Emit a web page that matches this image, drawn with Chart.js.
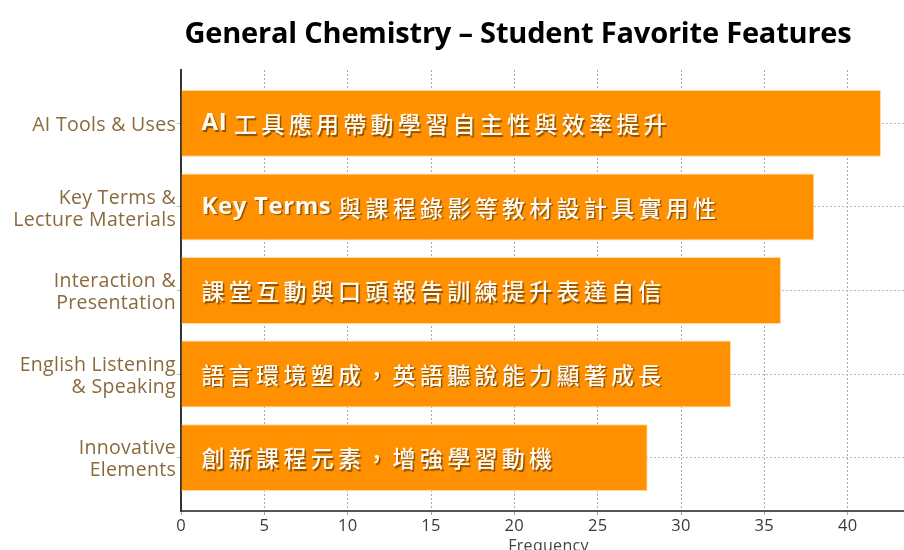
<!DOCTYPE html>
<html>
<head>
<meta charset="utf-8">
<script src="https://cdn.jsdelivr.net/npm/chart.js@4.4.1/dist/chart.umd.min.js"></script>
<style>
    html, body { margin: 0; padding: 0; background: #fff; overflow: hidden; }
    .wrap { position: relative; width: 916px; height: 556px; }
    .title {
        position: absolute; left: 518px; top: 12px; transform: translateX(-50%);
        white-space: nowrap; font: bold 29px "Open Sans", sans-serif; color: #000;
        letter-spacing: -0.2px;
    }
</style>
</head>
<body>
<div class="wrap">
    <div class="title">General Chemistry – Student Favorite Features</div>
    <canvas id="chart" width="916" height="556"></canvas>
</div>
<script>
// categories, top to bottom
const categories = [
    ['AI Tools & Uses'],
    ['Key Terms &', 'Lecture Materials'],
    ['Interaction &', 'Presentation'],
    ['English Listening', '& Speaking'],
    ['Innovative', 'Elements']
];
const frequencies = [42, 38, 36, 33, 28];
const barNotes = [
    'AI 工具應用帶動學習自主性與效率提升',
    'Key Terms 與課程錄影等教材設計具實用性',
    '課堂互動與口頭報告訓練提升表達自信',
    '語言環境塑成，英語聽說能力顯著成長',
    '創新課程元素，增強學習動機'
];
const xTicks = [0, 5, 10, 15, 20, 25, 30, 35, 40];

const barLabels = {
    id: 'barLabels',
    afterDatasetsDraw(chart) {
        const ctx = chart.ctx;
        const meta = chart.getDatasetMeta(0);
        meta.data.forEach(function (bar, i) {
            let text = barNotes[i];
            let m = text.match(/^[A-Za-z ]+/);
            let x = bar.base + 20;
            ctx.save();
            ctx.textBaseline = 'middle';
            ctx.fillStyle = '#fffaf0';
            ctx.shadowColor = 'rgba(90, 50, 0, 0.7)';
            ctx.shadowOffsetX = 1.5;
            ctx.shadowOffsetY = 1.5;
            ctx.shadowBlur = 1;
            if (m) {
                ctx.font = 'bold 24px "Open Sans"';
                ctx.letterSpacing = '0.6px';
                ctx.fillText(m[0], x, bar.y);
                x += ctx.measureText(m[0]).width;
                text = text.slice(m[0].length);
            }
            ctx.font = '500 23px "Noto Sans CJK TC"';
            ctx.letterSpacing = '4.3px';
            ctx.fillText(text, x, bar.y + 1);
            ctx.restore();
        });
    }
};

// slight tracking for the axis labels, like the original
const spacing = {
    id: 'spacing',
    beforeDraw(chart) {
        chart.ctx.letterSpacing = '0.3px';
    }
};

new Chart(document.getElementById('chart'), {
    type: 'bar',
    data: {
        datasets: [{
            data: frequencies.map((v, i) => ({x: v, y: i})),
            backgroundColor: '#ff9100',
            borderColor: '#ffd9a6',
            borderWidth: 1,
            barPercentage: 0.8,
            categoryPercentage: 1
        }]
    },
    options: {
        indexAxis: 'y',
        responsive: false,
        animation: false,
        layout: {padding: {top: 70, left: 0, right: 0, bottom: 0}},
        plugins: {legend: {display: false}, tooltip: {enabled: false}},
        scales: {
            x: {
                type: 'linear',
                min: 0,
                max: 44.1,
                afterBuildTicks: function (scale) {
                    scale.ticks = xTicks.map(v => ({value: v}));
                },
                ticks: {color: '#3a3a3a', font: {family: 'Open Sans', size: 16.5}, padding: 1},
                grid: {color: '#aaa', tickLength: 4},
                border: {color: '#555', width: 2, dash: [2, 2]},
                title: {display: true, text: 'Frequency', color: '#444', font: {family: 'Open Sans', size: 16}, padding: {top: 0, bottom: 0}}
            },
            y: {
                type: 'linear',
                reverse: true,
                offset: false,
                bounds: 'data',
                min: -0.64,
                max: 4.64,
                afterBuildTicks: function (scale) {
                    scale.ticks = categories.map((c, i) => ({value: i}));
                },
                afterFit: function (scale) {
                    scale.width = 181;
                },
                ticks: {
                    color: '#8a6a3c',
                    font: {family: 'Open Sans', size: 19.5, lineHeight: 1.13},
                    padding: 1,
                    labelOffset: 2,
                    callback: function (value) {
                        return categories[value];
                    }
                },
                grid: {color: '#bbb', tickLength: 4, offset: false},
                border: {color: '#333', width: 2, dash: [2, 2]}
            }
        }
    },
    plugins: [spacing, barLabels]
});
</script>
</body>
</html>
